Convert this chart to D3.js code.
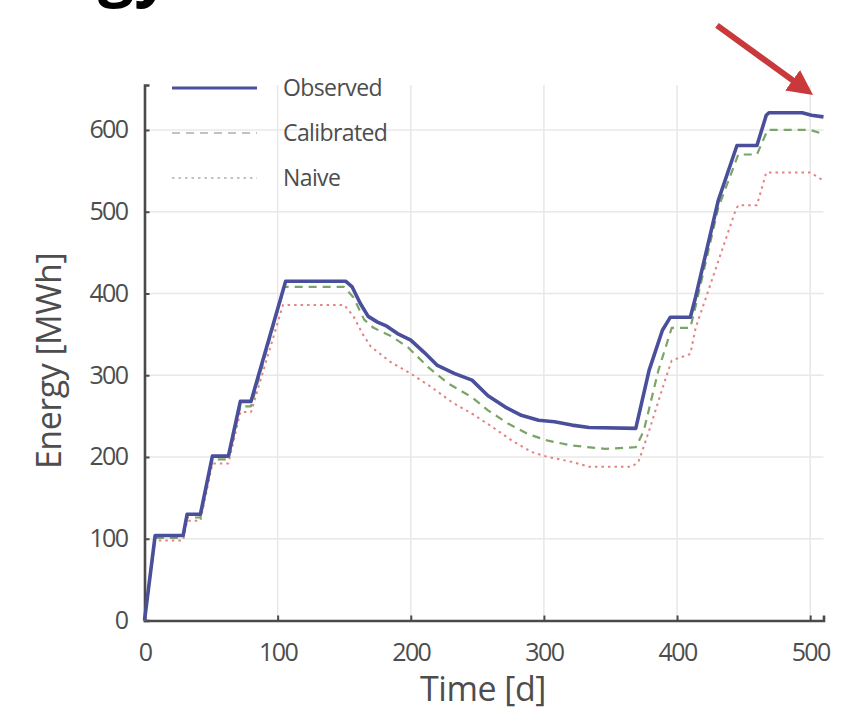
<!DOCTYPE html>
<html>
<head>
<meta charset="utf-8">
<script src="https://cdn.jsdelivr.net/npm/d3@7"></script>
<style>
  html, body { margin: 0; padding: 0; background: #fff; }
  svg { display: block; }
  text { font-family: "Open Sans", "Noto Sans", sans-serif; fill: #4d4d4d; }
</style>
</head>
<body>
<svg id="chart" width="841" height="726"></svg>
<script>
// Cumulative energy over time: observed vs. calibrated vs. naive model
const observedT = [0, 8, 29, 32, 42, 51, 63, 72, 80, 106, 151, 156, 162, 168, 175, 182, 190, 200, 210, 220, 233, 246, 258, 271, 283, 296, 308, 321, 334, 369, 379, 389, 395, 410, 414, 431, 445, 460, 467, 469, 494, 501, 510];
const observedE = [0, 104, 104, 130, 130, 201, 201, 268, 268, 415, 415, 408, 388, 372, 365, 360, 351, 343, 328, 312, 302, 294, 275, 261, 251, 245, 243, 239, 236, 235, 306, 355, 371, 371, 396, 514, 581, 581, 618, 621, 621, 618, 616];

const calibratedT = [0, 8, 29, 32, 42, 51, 63, 72, 80, 105, 150, 157, 165, 172, 185, 198, 213, 228, 246, 258, 273, 288, 303, 321, 346, 369, 375, 386, 396, 410, 414, 431, 446, 460, 468, 500, 510];
const calibratedE = [0, 101, 101, 126, 126, 197, 197, 262, 262, 408, 408, 395, 368, 358, 348, 334, 310, 290, 273, 257, 241, 228, 220, 214, 210, 212, 232, 306, 358, 358, 385, 505, 570, 570, 600, 600, 595];

const naiveT = [0, 8, 29, 32, 42, 51, 63, 72, 80, 104, 150, 157, 164, 170, 185, 200, 215, 231, 246, 261, 276, 291, 303, 321, 334, 366, 371, 379, 391, 396, 410, 414, 444, 446, 460, 467, 500, 510];
const naiveE = [0, 98, 98, 122, 122, 192, 192, 255, 255, 386, 386, 372, 350, 335, 316, 302, 286, 267, 253, 237, 220, 206, 200, 194, 188, 188, 194, 232, 294, 318, 326, 358, 502, 508, 508, 548, 548, 538];

const xTicks = [0, 100, 200, 300, 400, 500];
const yTicks = [0, 100, 200, 300, 400, 500, 600];

const seriesNames = ["Observed", "Calibrated", "Naive"];

const svg = d3.select("#chart");

const x = d3.scaleLinear().domain([0, 510]).range([144.5, 823.5]);
const y = d3.scaleLinear().domain([0, 655]).range([620.5, 85]);

const styles = {
  Observed:   { color: "#4a4f9c", width: 3.6, dash: null },
  Calibrated: { color: "#7aa468", width: 2.2, dash: "8,6" },
  Naive:      { color: "#e38383", width: 2.0, dash: "2.5,4" }
};

// heading fragment at the very top edge
svg.append("text")
  .attr("x", 98).attr("y", -7)
  .style("font-size", "64px").style("font-weight", "700").style("fill", "#000")
  .text("gy");

// grid
const grid = svg.append("g").attr("stroke", "#e8e8e8").attr("stroke-width", 1.5);
grid.selectAll("line.v").data(xTicks.filter(d => d > 0)).join("line")
  .attr("x1", d => x(d)).attr("x2", d => x(d))
  .attr("y1", y(0)).attr("y2", y(655));
grid.selectAll("line.h").data(yTicks.filter(d => d > 0)).join("line")
  .attr("x1", x(0)).attr("x2", x(510))
  .attr("y1", d => y(d)).attr("y2", d => y(d));

// axes
const xAxis = svg.append("g").attr("transform", `translate(0,${y(0)})`)
  .call(d3.axisBottom(x).tickValues(xTicks).tickSize(-5).tickPadding(23).tickFormat(d3.format("d")));
const yAxis = svg.append("g").attr("transform", `translate(${x(0)},0)`)
  .call(d3.axisLeft(y).tickValues(yTicks).tickSize(-5).tickPadding(17).tickFormat(d3.format("d")));

[xAxis, yAxis].forEach(a => {
  a.select(".domain").attr("stroke", "#4a4a4a").attr("stroke-width", 2.6);
  a.selectAll(".tick line").attr("stroke", "#4a4a4a").attr("stroke-width", 2);
  a.selectAll(".tick text").style("font-size", "25px").style("fill", "#4d4d4d")
    .style("letter-spacing", "-1.6px")
    .style("font-family", "'Open Sans', sans-serif");
});
xAxis.selectAll(".tick text").attr("dy", "0.71em");

// axis titles
svg.append("text")
  .attr("x", 483).attr("y", 701)
  .attr("text-anchor", "middle")
  .style("font-size", "34px")
  .style("letter-spacing", "-0.5px")
  .text("Time [d]");
svg.append("text")
  .attr("transform", `translate(61,${361}) rotate(-90)`)
  .attr("text-anchor", "middle")
  .style("font-size", "34px")
  .style("letter-spacing", "-0.5px")
  .text("Energy [MWh]");

// series
const line = d3.line().x(d => x(d[0])).y(d => y(d[1]));
const seriesData = {
  Observed: d3.zip(observedT, observedE),
  Calibrated: d3.zip(calibratedT, calibratedE),
  Naive: d3.zip(naiveT, naiveE)
};

["Naive", "Calibrated", "Observed"].forEach(name => {
  const s = styles[name];
  svg.append("path")
    .datum(seriesData[name])
    .attr("fill", "none")
    .attr("stroke", s.color)
    .attr("stroke-width", s.width)
    .attr("stroke-linejoin", "round")
    .attr("stroke-dasharray", s.dash)
    .attr("d", line);
});

// legend
const legend = svg.append("g");
seriesNames.forEach((name, i) => {
  const s = styles[name];
  const yy = 88 + i * 45;
  legend.append("line")
    .attr("x1", 172).attr("x2", 257).attr("y1", yy).attr("y2", yy)
    .attr("stroke", name === "Observed" ? s.color : "#9a9a9a")
    .attr("stroke-opacity", name === "Observed" ? 1 : 0.6)
    .attr("stroke-width", name === "Observed" ? 3 : 2)
    .attr("stroke-dasharray", s.dash);
  legend.append("text")
    .attr("x", 283).attr("y", yy).attr("dy", "0.35em")
    .style("font-size", "23px")
    .style("letter-spacing", "-0.6px")
    .text(name);
});

// annotation arrow pointing at the end of the observed curve
const defs = svg.append("defs");
defs.append("marker")
  .attr("id", "head").attr("viewBox", "0 0 10 10")
  .attr("refX", 6).attr("refY", 5)
  .attr("markerWidth", 4.2).attr("markerHeight", 4.2)
  .attr("orient", "auto")
  .append("path").attr("d", "M0,0 L10,5 L0,10 Z").attr("fill", "#c9393c");
svg.append("line")
  .attr("x1", x(430)).attr("y1", y(728))
  .attr("x2", x(496)).attr("y2", y(650))
  .attr("stroke", "#c9393c").attr("stroke-width", 6)
  .attr("marker-end", "url(#head)");
</script>
</body>
</html>
